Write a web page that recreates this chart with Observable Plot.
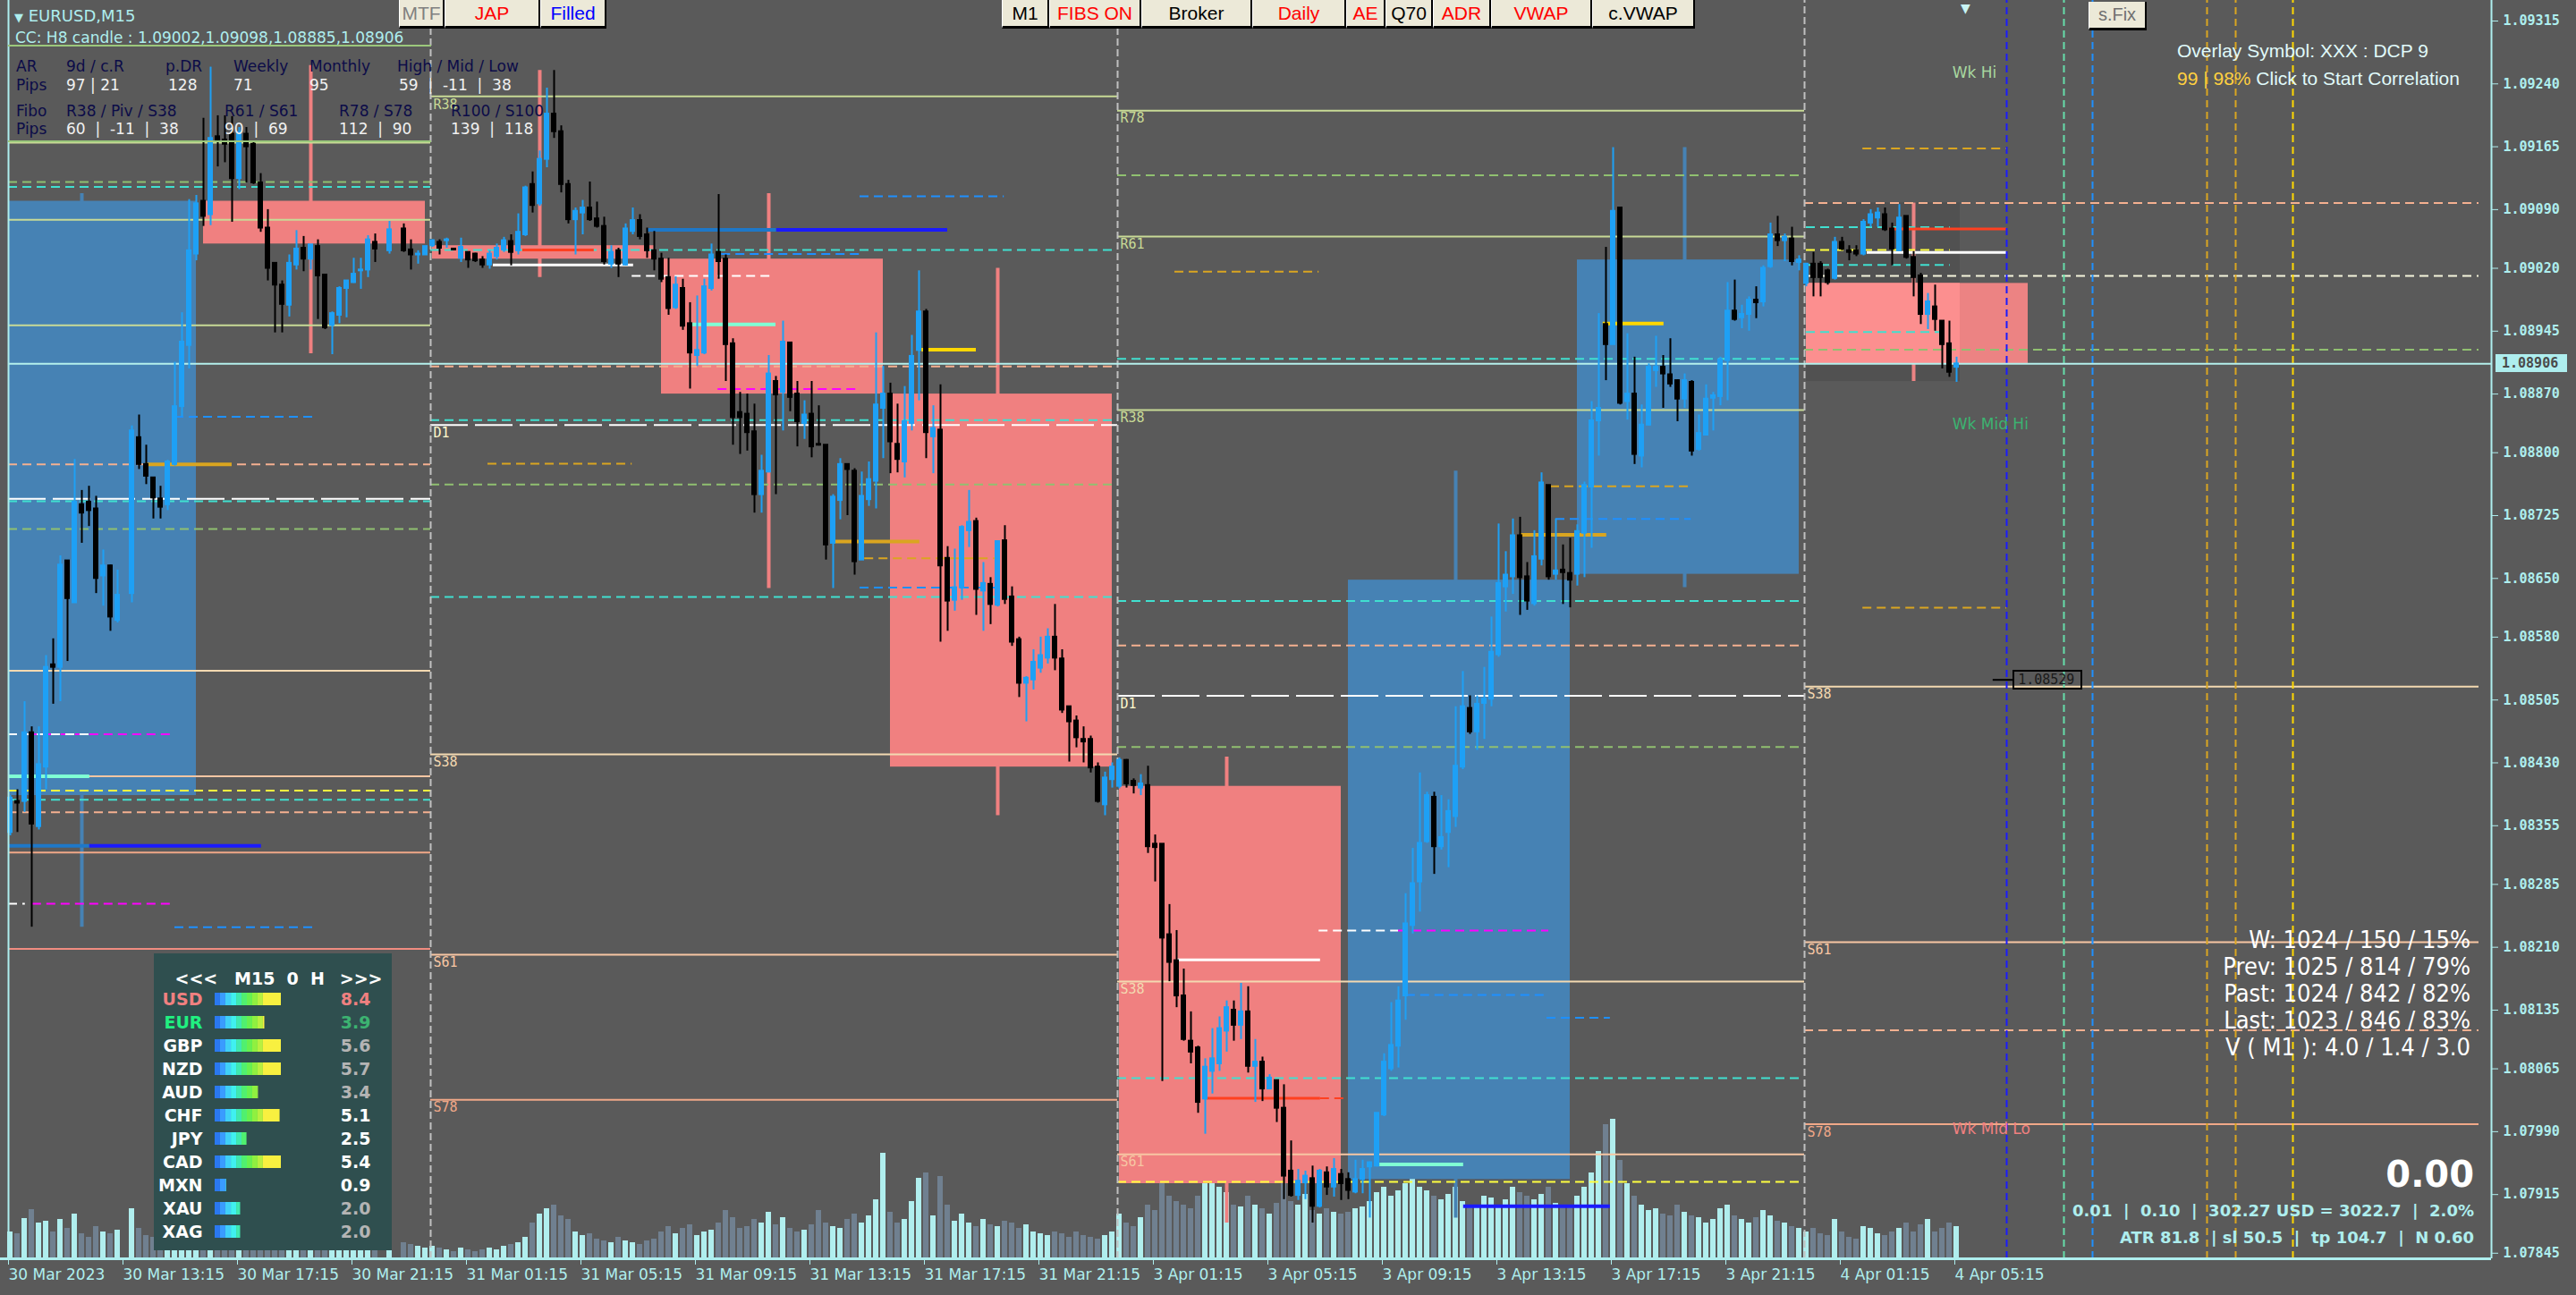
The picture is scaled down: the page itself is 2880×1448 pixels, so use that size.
<!DOCTYPE html>
<html><head><meta charset="utf-8">
<script src="https://cdn.jsdelivr.net/npm/d3@7"></script>
<script src="https://cdn.jsdelivr.net/npm/@observablehq/plot@0.6"></script>
<style>
html,body{margin:0;padding:0;background:#5a5a5a;overflow:hidden}
#root{position:relative;width:2880px;height:1448px;background:#5a5a5a;overflow:hidden}
.layer{position:absolute;left:0;top:0}
.t{position:absolute;white-space:pre;line-height:1;transform:translateY(-50%)}
.btn{position:absolute;top:0;height:32px;background:#ece9d8;border-right:2px solid #000;border-bottom:3px solid #000;border-left:1px solid #fff;box-sizing:border-box;font-family:"Liberation Sans Narrow","Liberation Sans",sans-serif;font-size:21px;display:flex;align-items:center;justify-content:center}
</style></head><body><div id="root"></div>
<script>
// ---------- DATA (prices in points: price = 1 + v/100000) ----------
const openPts=[8347,8384,8384,8466,8354,8425,8547,8544,8671,8621,
8738,8741,8733,8653,8665,8600,null,8632,8818,8786,
8770,8745,8738,8786,8855,8928,9037,9100,9084,9177,
9173,9180,9127,9180,9168,9122,9068,9026,9000,8976,
9024,9044,9031,9046,9012,8952,8964,8996,9003,9017,
9018,9051,null,9041,null,9067,9042,9036,9036,9047,
9051,9053,9043,9032,9039,9037,9030,9024,9034,9042,
9052,9041,9060,9120,9097,9150,9204,9183,9120,9078,
9086,9092,9079,9070,9025,9041,9024,9064,9077,9060,
9041,9031,9009,8973,8996,8954,8916,8919,8996,9039,
9031,8930,8848,8846,8825,8750,8777,8885,8872,8931,
8870,8835,8846,8810,8809,8692,8743,8786,8778,8672,
8744,8766,8853,8870,8810,8789,8835,8922,8968,8819,
8827,8674,8624,8639,8707,8718,8635,8643,8618,8695,
8628,8577,8525,8529,8543,8555,8580,8554,8497,8480,
8458,8458,8425,8380,8410,8402,8433,8408,8400,8403,
8333,8333,8225,8194,8152,8098,8090,8029,8062,8071,
8110,8135,8117,8133,8068,8073,8041,8051,8018,7943,
7914,7929,7934,7901,7941,7924,7939,7933,7918,7933,
7948,7949,8010,8065,8092,8152,8236,8288,8336,8389,
8330,8347,8366,8425,8495,8467,8501,8506,8559,8640,
8652,8701,8652,8620,8673,8761,8655,8660,8656,8655,
8704,8759,8838,8953,8929,9092,8861,8870,8796,8833,
8898,8902,8893,8886,8864,8884,8804,8821,8865,8867,
8910,8969,8961,8965,8982,8980,9022,9060,9053,9055,
9027,9002,9025,9025,9017,9008,9051,9041,9041,9037,
9074,9080,9084,9067,9041,9082,9033,9011,8965,8974,
8957,8930,8902];
const highPts=[8391,8398,8503,8473,8473,8558,8578,8677,8671,8792,
8755,8760,8748,8684,8666,8660,null,8832,8845,8809,
8770,8760,8791,8908,8967,9102,9107,9199,9260,9202,
9202,9201,9188,9188,9170,9133,9090,9026,9005,9036,
9065,9058,9048,9054,9012,8968,8998,9005,9032,9032,
9059,9061,null,9076,null,9073,9054,9041,9046,9054,
9054,9056,9044,9056,9039,9038,9034,9041,9049,9057,
9060,9085,9118,9135,9160,9235,9256,9190,9125,9092,
9101,9123,9099,9081,9047,9044,9073,9092,9084,9068,
9064,9038,9032,9010,9007,8979,8987,9007,9049,9108,
9036,8936,8872,8870,8858,8797,8916,8891,8957,8931,
8885,8862,8885,8856,8809,8750,8793,8786,8781,8777,
8789,8943,8903,8883,8858,8879,8940,9017,8971,8856,
8881,8688,8685,8713,8755,8722,8669,8651,8694,8713,
8640,8580,8533,8565,8580,8590,8619,8565,8497,8486,
8473,8462,8430,8419,8430,8436,8434,8411,8416,8426,
8344,8333,8261,8230,8184,8133,8092,8077,8113,8127,
8146,8146,8167,8163,8100,8079,8058,8051,8046,7979,
7945,7943,7949,7945,7948,7958,7945,7941,7956,7956,
7954,8012,8083,8144,8163,8274,8328,8418,8395,8395,
8391,8386,8497,8539,8510,8510,8544,8604,8715,8682,
8721,8723,8669,8707,8776,8761,8721,8690,8698,8714,
8765,8861,8966,9045,9164,9092,8942,8914,8857,8906,
8939,8916,8936,8887,8894,8886,8845,8881,8872,8914,
9003,9006,8976,8986,8998,9023,9074,9082,9061,9069,
9035,9026,9039,9028,9019,9057,9057,9047,9047,9078,
9090,9092,9092,9074,9096,9082,9040,9014,8990,9000,
8957,8957,8914];
const lowPts=[8343,8347,8371,8234,8350,8398,8500,8503,8551,8621,
8692,8712,8632,8617,8587,8597,null,8621,8780,8762,
8721,8721,8731,8784,8843,8900,9029,9070,9071,9141,
9146,9075,9114,9122,9120,9063,9005,8943,8943,8962,
9018,9016,9018,8959,8947,8917,8954,8961,9002,8995,
9009,9027,null,9037,null,9039,9018,9025,9036,9045,
9036,9044,9041,9027,9020,9027,9020,9019,9030,9039,
9023,9036,9058,9086,9094,9140,9175,9110,9073,9036,
9060,9076,9068,9024,9020,9009,9023,9060,9054,9032,
9017,9003,8964,8971,8946,8876,8903,8917,8993,9007,
8885,8809,8798,8802,8728,8728,8776,8750,8826,8849,
8807,8816,8794,8808,8672,8638,8720,8725,8654,8672,
8736,8733,8793,8775,8776,8770,8826,8862,8793,8775,
8574,8587,8611,8624,8687,8606,8587,8595,8616,8619,
8569,8508,8479,8517,8537,8548,8540,8489,8431,8448,
8430,8418,8382,8367,8400,8399,8400,8393,8391,8322,
8288,8050,8169,8138,8098,8071,8012,7987,8035,8062,
8085,8098,8100,8060,8025,8026,8040,8001,7909,7912,
7908,7909,7881,7899,7914,7912,7908,7909,7916,7916,
7887,7948,8008,8062,8066,8123,8226,8252,8334,8297,
8326,8305,8353,8422,8464,8445,8458,8497,8556,8610,
8631,8606,8612,8617,8665,8648,8648,8619,8615,8641,
8651,8686,8796,8886,8929,8857,8839,8786,8782,8832,
8878,8853,8878,8837,8853,8796,8802,8820,8826,8856,
8862,8957,8948,8945,8960,8974,9020,9046,9028,9023,
9017,8998,8986,8986,9000,9006,9041,9029,9034,9035,
9069,9069,9064,9023,9040,9031,8986,8953,8947,8945,
8900,8890,8884];
const closePts=[8388,8382,8466,8357,8428,8544,8544,8666,8626,8741,
8728,8731,8650,8665,8604,8630,null,8826,8786,8772,
8746,8735,8789,8855,8932,9041,9097,9082,9175,9172,
9168,9127,9182,9165,9122,9068,9020,9000,8977,9026,
9043,9031,9048,9011,8949,8966,8996,9005,9013,9018,
9054,9043,null,9066,null,9041,9036,9037,9046,9053,
9044,9054,9042,9045,9030,9029,9024,9037,9044,9053,
9039,9063,9116,9095,9150,9204,9183,9120,9078,9088,
9092,9078,9070,9028,9039,9025,9067,9077,9058,9041,
9031,9007,8972,9000,8951,8919,8922,8998,9036,9028,
8929,8842,8842,8824,8750,8778,8894,8869,8932,8866,
8837,8845,8807,8809,8690,8747,8786,8780,8670,8748,
8768,8857,8870,8813,8792,8837,8915,8968,8824,8829,
8665,8623,8639,8711,8717,8637,8644,8619,8694,8625,
8574,8525,8531,8550,8558,8580,8555,8493,8479,8460,
8455,8424,8384,8412,8425,8433,8405,8403,8405,8330,
8329,8221,8192,8152,8100,8085,8025,8067,8077,8113,
8138,8117,8133,8068,8073,8041,8054,8018,7937,7914,
7931,7937,7901,7943,7924,7945,7928,7920,7933,7945,
7953,8012,8073,8093,8146,8238,8286,8334,8391,8330,
8341,8372,8426,8497,8467,8500,8506,8562,8644,8654,
8701,8651,8623,8676,8764,8652,8659,8657,8648,8706,
8761,8838,8853,8929,9088,8859,8870,8798,8833,8902,
8902,8894,8882,8864,8886,8802,8823,8864,8868,8911,
8969,8959,8965,8982,8979,9020,9060,9053,9057,9028,
9030,9025,9009,9009,9003,9051,9043,9039,9037,9075,
9084,9086,9066,9043,9080,9033,9009,8965,8980,8959,
8929,8896,8906];
const volume=[30,28,45,55,40,42,30,44,34,50,28,24,36,30,28,32,0,56,34,26,
24,22,26,40,44,60,38,42,50,30,24,36,28,24,30,34,38,40,28,26,24,22,20,30,32,22,24,20,18,20,24,22,0,20,
0,18,16,14,12,
14,12,10,8,12,10,8,10,12,10,14,16,18,24,40,50,56,60,48,44,30,26,28,22,20,18,24,20,18,16,20,22,
30,36,28,34,38,26,30,32,40,54,46,34,36,44,40,52,38,46,34,30,32,38,54,40,36,34,44,50,40,48,66,118,
52,40,44,64,90,96,48,92,60,42,50,40,36,44,38,36,42,40,34,38,30,28,26,30,28,24,30,26,24,22,26,30,
50,40,36,46,60,54,100,70,64,60,56,70,84,92,80,74,60,58,70,60,56,50,62,86,64,60,72,54,50,56,52,50,
52,56,58,64,74,80,70,76,84,90,80,76,70,66,72,80,64,60,58,70,68,60,66,80,74,70,66,72,80,62,58,60,
70,80,96,120,150,156,110,84,70,60,54,56,50,48,60,52,48,46,40,44,56,60,48,44,40,46,54,48,42,40,36,34,
30,34,28,26,44,30,24,22,36,34,28,26,30,34,40,30,38,44,30,34,40,36];

// H8 candles drawn as background boxes (start bar index of each 8-hour block)
const h8Start=[-5,27,59,91,123,155,187,219,251];
const h8Open=[8391,9100,9047,9031,8870,8402,7933,8655,9002];
const h8High=[9109,9262,9256,9109,9020,8437,8778,9164,9098];
const h8Low=[8234,8918,9009,8638,8367,7881,7887,8639,8885];
const h8Close=[9100,9049,9031,8870,8425,7928,8648,9030,8906];

// time axis
const tickBars=[0,16,32,48,64,80,96,112,128,144,160,176,192,208,224,240,256,272];
const tickLabels=["30 Mar 2023","30 Mar 13:15","30 Mar 17:15","30 Mar 21:15","31 Mar 01:15","31 Mar 05:15","31 Mar 09:15","31 Mar 13:15","31 Mar 17:15","31 Mar 21:15","3 Apr 01:15","3 Apr 05:15","3 Apr 09:15","3 Apr 13:15","3 Apr 17:15","3 Apr 21:15","4 Apr 01:15","4 Apr 05:15"];
const priceTicks=[9315,9240,9165,9090,9020,8945,8870,8800,8725,8650,8580,8505,8430,8355,8285,8210,8135,8065,7990,7915,7845];

// day sections (bar index boundaries)
const dayBreaks=[58.75,154.75,250.75];
const sectionFrom=[-0.25,58.75,154.75,250.75];
const sectionTo=[58.75,154.75,250.75,345];

// daily fibo levels [section, name, points]
const fibLevels=[[0,"R78",9170],[0,"R61",9078],[0,"R38",8952],[0,"S38",8540],[0,"S61",8414],[0,"S78",8323],[0,"S100",8208],
[1,"R38",9225],[1,"S38",8440],[1,"S61",8201],[1,"S78",8028],
[2,"R78",9208],[2,"R61",9058],[2,"R38",8851],[2,"S38",8169],[2,"S61",7963],
[3,"S38",8521],[3,"S61",8216],[3,"S78",7999]];
const dailyOpenLevels=[[0,8745],[1,8833],[2,8510]];
const turquoiseLevels=[[0,9117],[0,8742],[0,8386],[1,9042],[1,8839],[1,8628],[2,8912],[2,8623],[2,8054]];
const greenLevels=[[0,9123],[0,8709],[1,8762],[2,9131],[2,8449],[3,8923]];
const peachLevels=[[0,8786],[0,8371],[1,8903],[2,8570],[3,9098],[3,8111]];
const yellowLevels=[[0,8397],[2,7930]];
const paleLevels=[[3,9011]];
// short level segments [fromBar, toBar, points, kind]
const segments=[
[23,42.9,8843,"blueDash"],[23,42.9,8234,"blueDash"],[3.1,23,8464,"magentaDash"],[3.1,23,8262,"magentaDash"],
[-0.25,11,8464,"whiteDash"],[-0.25,2.1,8262,"whiteDash"],[18.9,31,8786,"goldSolid"],
[-0.25,11.1,8331,"steelSolid"],[11.1,35.1,8331,"blueSolid"],[-0.25,11.1,8414,"aquaSolid"],
[118.75,138.9,9106,"blueDash"],[89.1,107.1,9066,"steelSolid"],[107.1,131,9066,"blueSolid"],[71.6,81.6,9042,"redSolid"],
[67.5,87.1,9024,"whiteSolid"],[86.9,106.9,9011,"whiteDash"],[99.4,118.75,9037,"blueDash"],[95.1,107,8953,"aquaSolid"],
[127.4,135,8923,"yellowSolid"],[98.9,118.75,8876,"magentaDash"],[66.75,86.9,8787,"goldDash"],[115.25,127.1,8694,"goldSolid"],
[119.4,137.6,8674,"goldDash"],[118.75,138.9,8639,"blueDash"],
[162.75,182.9,9016,"goldDash"],[182.9,194,8230,"whiteDash"],[194,215,8230,"magentaDash"],[163,183.1,8195,"whiteSolid"],
[195.1,214.75,8153,"blueDash"],[214.75,223.6,8126,"blueDash"],[167.25,183.1,8030,"redSolid"],[183.1,186.9,8030,"redDash"],
[191.4,203.1,7951,"aquaSolid"],[203.1,223.6,7901,"blueSolid"],[222.6,231.1,8954,"yellowSolid"],[215.25,234.9,8760,"goldDash"],
[216,234.9,8721,"blueDash"],[211.1,223.1,8702,"goldSolid"],
[258.9,279,9163,"goldDash"],[262.6,279,9067,"redSolid"],[251,271.1,9069,"turqDash"],[251,271.1,9042,"yellowDash"],
[259.5,279,9039,"whiteSolid"],[251,271.1,9024,"turqDash"],[251,271.1,8944,"turqDash"],[258.9,279,8615,"goldDash"]];
// session time lines (future bars of 4 Apr)
const sessionBars=[279,287,291,307,311,319];
const sessionKinds=["blue","aqua","dodger","gold","gold","yellow"];
const weeklyLabels=[["Wk Hi",9253],["Wk Mid Hi",8834],["Wk Mid Lo",7993]];
const markedPrice=8529;

// currency strength panel
const currencies=["USD","EUR","GBP","NZD","AUD","CHF","JPY","CAD","MXN","XAU","XAG"];
const strength=[8.4,3.9,5.6,5.7,3.4,5.1,2.5,5.4,0.9,2.0,2.0];

// ---------- STYLES ----------
const W=2880,H=1448,mR=95,mB=41;
const xDomain=[-1.375,346.75];
const yDomain=[1.0783837,1.0933954];
const P=v=>1+v/1e5;
const bull="#1ea0f5",bear="#000000",cyan="#aeeeee";
const fibColor=n=>n[0]==="R"?"#c8da96":n==="S38"?"#f3d9b1":n==="S61"?"#f7c6a3":n==="S78"?"#f0a888":"#f08c80";
const segStyle={
 blueDash:["#1e90ff",2,"10,6"],magentaDash:["#ff00ff",2,"10,6"],whiteDash:["#ffffff",2,"10,6"],goldDash:["#daa520",2,"10,6"],
 turqDash:["#40e0d0",2,"10,6"],yellowDash:["#ffff40",2,"10,6"],redDash:["#ff4020",2,"10,6"],
 goldSolid:["#daa520",4,null],steelSolid:["#1e78c8",4,null],blueSolid:["#1a1aff",4,null],aquaSolid:["#7fffd4",4,null],
 redSolid:["#ff4020",3,null],whiteSolid:["#ffffff",3,null],yellowSolid:["#ffd700",4,null]};
const sessionColor={blue:"#1a1aff",aqua:"#66ddaa",dodger:"#1e90ff",gold:"#daa520",yellow:"#ffd700"};

// ---------- BUILD ----------
const bars=[];
for(let i=0;i<openPts.length;i++){ if(openPts[i]==null) continue;
 bars.push({i,o:P(openPts[i]),h:P(highPts[i]),l:P(lowPts[i]),c:P(closePts[i]),v:volume[i]}); }
const up=d=>d.c>=d.o;
const lastBar=openPts.length-1;
const h8=h8Start.map((s,k)=>({k,s,e:s+31,o:P(h8Open[k]),h:P(h8High[k]),l:P(h8Low[k]),c:P(h8Close[k])}));
const curH8=h8[h8.length-1];
const boxColor=d=>d.k===h8.length-1?"#ec8383":(d.c>=d.o?"#4682b4":"#f08080");
const lv=(arr)=>arr.map(([s,p])=>({x1:sectionFrom[s],x2:sectionTo[s],y:P(p)}));
const fibs=fibLevels.map(([s,n,p])=>({s,n,x1:sectionFrom[s],x2:sectionTo[s],y:P(p)}));
const segs=segments.map(([a,b,p,k])=>({x1:a,x2:b,y:P(p),k}));
const lastClose=P(closePts[lastBar]);

const root=document.getElementById("root");
function layer(el,left=0,top=0){const d=document.createElement("div");d.className="layer";d.style.left=left+"px";d.style.top=top+"px";d.appendChild(el);root.appendChild(d);return d;}

// volume layer
const vol=Plot.plot({width:W,height:H,marginLeft:0,marginRight:mR,marginTop:H-mB-200,marginBottom:mB,
 x:{domain:xDomain,axis:null},y:{domain:[0,200],axis:null},color:{type:"identity"},
 style:{background:"transparent"},
 marks:[Plot.rect(bars,{x1:d=>d.i-0.375,x2:d=>d.i+0.375,y1:d=>0,y2:"v",fill:d=>up(d)?"#b0eeee":"#708090"})]});
layer(vol);

const segMarks=Object.keys(segStyle).map(k=>Plot.ruleY(segs.filter(d=>d.k===k),{x1:"x1",x2:"x2",y:"y",stroke:segStyle[k][0],strokeWidth:segStyle[k][1],strokeDasharray:segStyle[k][2]}));

const main=Plot.plot({width:W,height:H,marginLeft:0,marginRight:mR,marginTop:0,marginBottom:mB,
 x:{domain:xDomain,axis:null},y:{domain:yDomain,axis:null},color:{type:"identity"},
 style:{background:"transparent",color:cyan,fontFamily:"DejaVu Sans Mono",fontSize:"15px"},
 marks:[
  Plot.rect([curH8],{x1:"s",x2:d=>lastBar+0.5,y1:"l",y2:"h",fill:"#515151"}),
  Plot.ruleX(h8,{x:d=>d.s+15,y1:"l",y2:"h",stroke:boxColor,strokeWidth:4}),
  Plot.rect(h8,{x1:d=>Math.max(d.s,-0.25),x2:"e",y1:"o",y2:"c",fill:boxColor}),
  Plot.rect([curH8],{x1:"s",x2:d=>lastBar+0.5,y1:"o",y2:"c",fill:"#fc8f8f"}),
  Plot.ruleY(fibs,{x1:"x1",x2:"x2",y:"y",stroke:d=>fibColor(d.n),strokeWidth:2}),
  Plot.ruleY(lv(dailyOpenLevels),{x1:"x1",x2:"x2",y:"y",stroke:"#ffffff",strokeWidth:2,strokeDasharray:"42,8"}),
  Plot.ruleY(lv(turquoiseLevels),{x1:"x1",x2:"x2",y:"y",stroke:"#40e0d0",strokeWidth:2,strokeDasharray:"10,6"}),
  Plot.ruleY(lv(greenLevels),{x1:"x1",x2:"x2",y:"y",stroke:"#90c070",strokeWidth:2,strokeDasharray:"10,6"}),
  Plot.ruleY(lv(peachLevels),{x1:"x1",x2:"x2",y:"y",stroke:"#f4b090",strokeWidth:2,strokeDasharray:"10,6"}),
  Plot.ruleY(lv(yellowLevels),{x1:"x1",x2:"x2",y:"y",stroke:"#ffff40",strokeWidth:2,strokeDasharray:"10,6"}),
  Plot.ruleY(lv(paleLevels),{x1:"x1",x2:"x2",y:"y",stroke:"#f4f4dc",strokeWidth:2,strokeDasharray:"10,6"}),
  ...segMarks,
  Plot.ruleX(dayBreaks,{x:d=>d,y1:d=>yDomain[0],y2:d=>yDomain[1],stroke:"#c0c0c0",strokeWidth:2,strokeDasharray:"8,4"}),
  Plot.ruleX(sessionBars,{x:d=>d,y1:d=>yDomain[0],y2:d=>yDomain[1],stroke:(d,k)=>sessionColor[sessionKinds[sessionBars.indexOf(d)]],strokeWidth:2,strokeDasharray:"8,5"}),
  Plot.ruleY([lastClose],{x1:d=>-0.25,x2:d=>xDomain[1],y:d=>d,stroke:"#b4f0ec",strokeWidth:2}),
  Plot.ruleY([P(markedPrice)],{x1:d=>277.1,x2:d=>279.9,y:d=>d,stroke:"#000",strokeWidth:2}),
  Plot.ruleX(bars,{x:"i",y1:"l",y2:"h",stroke:d=>up(d)?bull:bear,strokeWidth:2}),
  Plot.rect(bars,{x1:d=>d.i-0.375,x2:d=>d.i+0.375,y1:"o",y2:"c",fill:d=>up(d)?bull:bear,insetTop:-1,insetBottom:-1}),
  Plot.text(fibs.filter(d=>d.s>0),{x:"x1",y:"y",text:"n",fill:d=>fibColor(d.n),textAnchor:"start",lineAnchor:"top",dx:3,dy:3}),
  Plot.text(lv(dailyOpenLevels).slice(1),{x:"x1",y:"y",text:d=>"D1",fill:"#fffacd",textAnchor:"start",lineAnchor:"top",dx:3,dy:3}),
  Plot.text(weeklyLabels,{x:d=>271.4,y:d=>P(d[1]),text:d=>d[0],fill:d=>d[0]==="Wk Hi"?"#a8d8a0":d[0]==="Wk Mid Hi"?"#3cb371":"#f08080",textAnchor:"start",fontFamily:"DejaVu Sans",fontSize:17}),
  Plot.ruleY([yDomain[0]],{stroke:cyan,strokeWidth:3}),
  Plot.ruleX([xDomain[1]],{stroke:cyan,strokeWidth:2}),
  Plot.ruleX([-0.25],{stroke:cyan,strokeWidth:2}),
  Plot.axisY({ticks:priceTicks.map(P),anchor:"right",tickFormat:d=>d.toFixed(5),tickSize:7,tickPadding:6,fontWeight:"bold",fontSize:15}),
  Plot.axisX({ticks:tickBars,anchor:"bottom",tickFormat:d=>tickLabels[tickBars.indexOf(d)],tickSize:7,tickPadding:4,textAnchor:"start",dx:-2,fontFamily:"DejaVu Sans",fontSize:17})
 ]});
layer(main);

// currency strength panel
const segColors=["#2a78f0","#3a9cff","#40d0f8","#40f0f0","#40e8b0","#50f070","#68f050","#90f040","#b8f040","#f8f040"];
const segEdges=[0,0.42,0.84,1.27,1.69,2.11,2.53,2.95,3.37,3.79,5.2];
const cells=[];
currencies.forEach((c,k)=>{const v=strength[k];for(let j=0;j<10;j++){if(segEdges[j]>=v)break;cells.push({cur:c,x1:segEdges[j],x2:Math.min(segEdges[j+1],v),fill:segColors[j]});}});
const curColor={USD:"#f08080",EUR:"#20f080"};
const valColor={USD:"#f08080",EUR:"#3cb371",GBP:"#b4b4b4",NZD:"#b4b4b4",AUD:"#b4b4b4",XAU:"#b4b4b4",XAG:"#b4b4b4"};
const panel=Plot.plot({width:266,height:332,marginLeft:0,marginRight:0,marginTop:0,marginBottom:0,
 x:{domain:[0,5.2],range:[68,142],axis:null},
 y:{type:"band",domain:currencies,range:[38,324],paddingInner:0.46,paddingOuter:0.23,axis:null},
 color:{type:"identity"},
 style:{background:"#2f4f4f",fontFamily:"DejaVu Sans",fontWeight:"bold",fontSize:"19px"},
 marks:[
  Plot.barX(cells,{x1:"x1",x2:"x2",y:"cur",fill:"fill"}),
  Plot.text(currencies,{y:d=>d,text:d=>d,frameAnchor:"left",dx:54,textAnchor:"end",fill:d=>curColor[d]||"#ffffff"}),
  Plot.text(currencies,{y:d=>d,text:d=>strength[currencies.indexOf(d)].toFixed(1),frameAnchor:"left",dx:242,textAnchor:"end",fill:d=>valColor[d]||"#ffffff"}),
  Plot.text(["<<<"],{text:d=>d,frameAnchor:"top-left",dx:23,dy:21,textAnchor:"start",fill:"#ffffff"}),
  Plot.text(["M15  0  H"],{text:d=>d,frameAnchor:"top-left",dx:140,dy:21,textAnchor:"middle",fill:"#ffffff"}),
  Plot.text([">>>"],{text:d=>d,frameAnchor:"top-left",dx:255,dy:21,textAnchor:"end",fill:"#ffffff"})
 ]});
layer(panel,172,1066);

// ---------- TEXT OVERLAYS ----------
function T(txt,x,y,o={}){const d=document.createElement("div");d.className="t";d.innerHTML=txt;
 if(o.right){d.style.right=(W-x)+"px";}else{d.style.left=x+"px";}
 d.style.top=y+"px";d.style.color=o.color||cyan;d.style.font=o.font||"17px 'DejaVu Sans'";
 if(o.ls)d.style.letterSpacing=o.ls;root.appendChild(d);return d;}
function box(x,y,w,h,bg,extra){const d=document.createElement("div");Object.assign(d.style,{position:"absolute",left:x+"px",top:y+"px",width:w+"px",height:h+"px",background:bg},extra||{});root.appendChild(d);return d;}

T("<span style='font-size:13px'>&#9660;</span> EURUSD,M15",16,17,{font:"18px 'DejaVu Sans'"});
T("CC: H8 candle : 1.09002,1.09098,1.08885,1.08906",17,42);
box(9,50,473,2,"#9cc87c");box(9,157,473,2,"#9cc87c");
const navy="#0c0c48",wht="#f0f0f0";
T("AR",18,74,{color:navy});T("9d / c.R",74,74,{color:navy});T("p.DR",185,74,{color:navy});T("Weekly",261,74,{color:navy});T("Monthly",346,74,{color:navy});T("High / Mid / Low",444,74,{color:navy});
T("Pips",18,95,{color:navy});T("97 | 21",74,95,{color:wht});T("128",188,95,{color:wht});T("71",261,95,{color:wht});T("95",346,95,{color:wht});T("59  |  -11  |  38",446,95,{color:wht});
T("Fibo",18,124,{color:navy});T("R38 / Piv / S38",74,124,{color:navy});T("R61 / S61",251,124,{color:navy});T("R78 / S78",379,124,{color:navy});T("R100 / S100",504,124,{color:navy});
T("Pips",18,144,{color:navy});T("60  |  -11  |  38",74,144,{color:wht});T("90  |  69",251,144,{color:wht});T("112  |  90",379,144,{color:wht});T("139  |  118",504,144,{color:wht});

const buttons=[["MTF",446,497,"#808080"],["JAP",497,604,"#ff0000"],["Filled",604,678,"#0000ff"],
["M1",1120,1173,"#000"],["FIBS ON",1173,1276,"#ff0000"],["Broker",1276,1400,"#000"],["Daily",1400,1505,"#ff0000"],
["AE",1505,1549,"#ff0000"],["Q70",1549,1602,"#000"],["ADR",1602,1667,"#ff0000"],["VWAP",1667,1780,"#ff0000"],["c.VWAP",1780,1895,"#000"],
["s.Fix",2335,2400,"#707070"]];
buttons.forEach(([t,a,b,c])=>{const d=document.createElement("div");d.className="btn";d.textContent=t;d.style.left=a+"px";d.style.width=(b-a)+"px";d.style.color=c;if(t==="s.Fix"){d.style.top="2px";d.style.fontFamily="'Liberation Sans'";d.style.fontSize="20px";}root.appendChild(d);});
T("&#9660;",2192,9,{color:"#c8f4f4",font:"14px 'DejaVu Sans'"});

T("Overlay Symbol: XXX : DCP 9",2434,57,{color:"#e0fafa",font:"21px 'Liberation Sans'"});
T("<span style='color:#ffd040'>99 | 98%</span> Click to Start Correlation",2434,88,{color:"#e0fafa",font:"21px 'Liberation Sans'"});

const nar="27px 'Liberation Sans Narrow','DejaVu Sans Condensed',sans-serif";
T("W: 1024 / 150 / 15%",2762,1050,{right:true,color:"#fff",font:nar});
T("Prev: 1025 / 814 / 79%",2762,1080,{right:true,color:"#fff",font:nar});
T("Past: 1024 / 842 / 82%",2762,1110,{right:true,color:"#fff",font:nar});
T("Last: 1023 / 846 / 83%",2762,1140,{right:true,color:"#fff",font:nar});
T("V ( M1 ): 4.0 / 1.4 / 3.0",2762,1170,{right:true,color:"#fff",font:nar});
T("0.00",2766,1313,{right:true,color:"#fff",font:"bold 40px 'DejaVu Sans'"});
T("0.01  |  0.10  |  302.27 USD = 3022.7  |  2.0%",2766,1353,{right:true,color:cyan,font:"bold 18px 'DejaVu Sans'"});
T("ATR 81.8  | sl 50.5  |  tp 104.7  |  N 0.60",2766,1383,{right:true,color:cyan,font:"bold 18px 'DejaVu Sans'"});

// price labels positioned through the chart scales
const ys=main.scale("y"),xs=main.scale("x");
const yc=ys.apply(lastClose);
box(2790,yc-10,80,20,cyan);
T(lastClose.toFixed(5),2797,yc,{color:"#4a4a4a",font:"bold 15px 'DejaVu Sans Mono'"});
const ym=ys.apply(P(markedPrice)),xm=xs.apply(279.9);
box(xm,ym-11,78,22,"transparent",{border:"2px solid #000",boxSizing:"border-box"});
T(P(markedPrice).toFixed(5),xm+6,ym,{color:"#1a1a1a",font:"15px 'DejaVu Sans Mono'"});
</script></body></html>
